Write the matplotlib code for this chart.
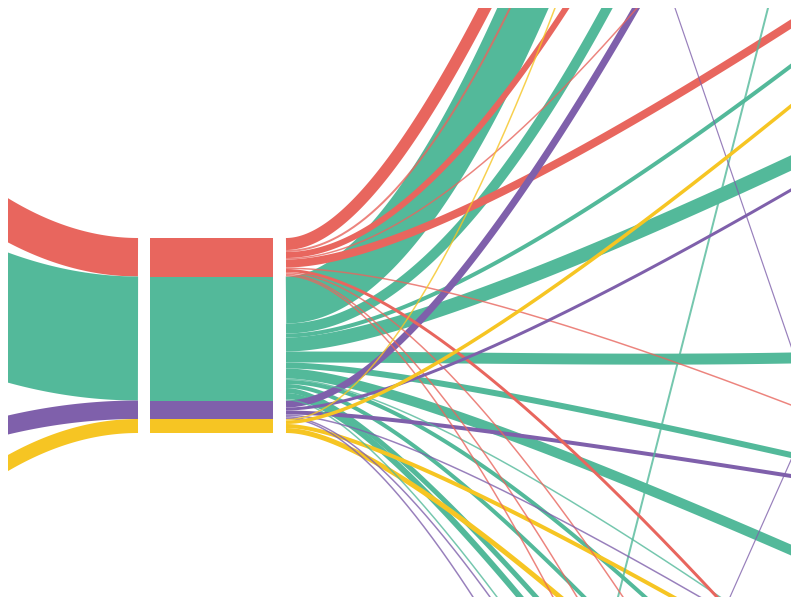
import matplotlib

matplotlib.use("Agg")
import matplotlib.pyplot as plt
import numpy as np

# visible window of the sankey, in pixels of the 791x599 canvas
VIEW_X = (8, 791)
VIEW_Y = (8, 597)
PX = 0.72  # points per pixel at dpi 100

palette = {"red": "#e8665e", "green": "#53b99a", "purple": "#7f60ab", "yellow": "#f6c523"}
groups = ["red", "green", "purple", "yellow"]

# incoming links (left): band centre where each enters the view
left_in_y = [220.5, 318, 425, 463]

# outgoing links, listed in their order on the node
flow_group = (["red"] * 10 + ["green"] * 13 + ["purple"] * 6 + ["yellow"] * 4)
flow_value = [12, 2, 6, 1.5, 8, 1.5, 3, 1.5, 1.5, 1.5,
              47, 10, 4, 14, 11, 6, 10, 1.5, 4, 4, 5, 6, 1.5,
              7, 3, 4, 1.5, 1.5, 1.5,
              1.5, 3.5, 4, 5]
flow_exit_x = [485, 510, 566, 637, 791, 791, 717, 623, 577, 553,
               523, 607, 791, 791, 791, 791, 791, 720, 645, 584, 536, 520, 497,
               636, 791, 791, 700, 490, 473,
               555, 791, 673, 560]
flow_exit_y = [8, 8, 8, 8, 24, 405, 597, 597, 597, 597,
               8, 8, 66, 163, 358, 455, 550, 597, 597, 597, 597, 597, 597,
               8, 190, 476, 597, 597, 597,
               8, 106, 597, 597]
flow_angle = [62.6, 64, 57, 49, 32.6, -21, -47, -56, -59, -62,
              66, 61.5, 37, 25, 1, -12.7, -23.5, -34, -42, -45, -48, -50, -53,
              60, 30, -9, -30, -54, -57,
              69, 39, -29, -40]

# links of other nodes that cross the view
ext_group = ["green", "purple", "purple"]
ext_value = [2, 1.2, 1.2]
ext_x0 = [768, 675, 791]
ext_y0 = [8, 8, 460]
ext_x1 = [618, 791, 730]
ext_y1 = [597, 346, 597]

NODE_TOP = 238
LEFT_END, BAR_X0, BAR_X1, FAN_X = 138, 150, 273, 286


def bezier(p0, p1, p2, p3, n=150):
    t = np.linspace(0, 1, n)[:, None]
    return ((1 - t) ** 3) * p0 + 3 * (1 - t) ** 2 * t * p1 + 3 * (1 - t) * t ** 2 * p2 + t ** 3 * p3


def draw_link(ax, pts, width, color, alpha=1.0):
    # thin links as plain lines, wide ones as filled ribbons (clip cleanly)
    if width <= 3.5:
        ax.plot(pts[:, 0], pts[:, 1], color=color, lw=width * PX, alpha=alpha,
                solid_capstyle="butt", solid_joinstyle="round")
        return
    tang = np.gradient(pts, axis=0)
    tang /= np.hypot(tang[:, 0], tang[:, 1])[:, None]
    norm = np.column_stack([-tang[:, 1], tang[:, 0]]) * width / 2
    poly = np.vstack([pts + norm, (pts - norm)[::-1]])
    ax.fill(poly[:, 0], poly[:, 1], color=color, alpha=alpha, linewidth=0)


fig = plt.figure(figsize=(7.91, 5.99), dpi=100)
fig.patch.set_facecolor("white")
W, H = 791, 599
ax = fig.add_axes([VIEW_X[0] / W, (H - VIEW_Y[1]) / H,
                   (VIEW_X[1] - VIEW_X[0]) / W, (VIEW_Y[1] - VIEW_Y[0]) / H])
ax.set_xlim(*VIEW_X)
ax.set_ylim(VIEW_Y[1], VIEW_Y[0])
ax.axis("off")

# node slot sizes from the outgoing flows
heights = [sum(v for g, v in zip(flow_group, flow_value) if g == grp) for grp in groups]
tops = NODE_TOP + np.concatenate([[0], np.cumsum(heights)[:-1]])

# external links first (underneath)
for g, w, xa, ya, xb, yb in zip(ext_group, ext_value, ext_x0, ext_y0, ext_x1, ext_y1):
    d = np.array([xb - xa, yb - ya], dtype=float)
    d /= np.hypot(*d)
    a = np.array([xa, ya]) - 40 * d
    b = np.array([xb, yb]) + 40 * d
    draw_link(ax, np.array([a, b]), w, palette[g], alpha=0.8)

# incoming links on the left
for grp, h, top, yl in zip(groups, heights, tops, left_in_y):
    yr = top + h / 2
    xs = np.linspace(-60, LEFT_END, 150)
    k = (yr - yl) / (LEFT_END - VIEW_X[0]) ** 2
    ys = yr - k * (LEFT_END - xs) ** 2
    draw_link(ax, np.column_stack([xs, ys]), h, palette[grp])

# node bar
ax.bar((BAR_X0 + BAR_X1) / 2, heights, bottom=tops, width=BAR_X1 - BAR_X0,
       color=[palette[g] for g in groups], linewidth=0)

# outgoing fan: flat at the node, then a parabola that meets the exit direction
cursor = dict(zip(groups, tops))
paths = []
for g, v, ex, ey, ang in zip(flow_group, flow_value, flow_exit_x, flow_exit_y, flow_angle):
    y0 = cursor[g] + v / 2
    cursor[g] += v
    p0 = np.array([FAN_X, y0])
    e = np.array([ex, ey], dtype=float)
    d = np.array([np.cos(np.radians(ang)), -np.sin(np.radians(ang))])
    dist = np.hypot(*(e - p0))
    s = (ey - y0) / d[1] if abs(ang) > 6 else -1
    xc = ex - s * d[0]
    if s > 0 and FAN_X + 10 < xc < ex:
        c = np.array([xc, y0])
        pts = bezier(p0, p0 + 2 / 3 * (c - p0), e + 2 / 3 * (c - e), e)
    else:
        pts = bezier(p0, p0 + [0.35 * dist, 0], e - 0.35 * dist * d, e)
    pts = np.vstack([pts, e + 80 * d])
    paths.append((g, v, pts))

for grp in ["green", "red", "purple", "yellow"]:
    for g, v, pts in paths:
        if g == grp:
            draw_link(ax, pts, v, palette[g], alpha=0.8 if v <= 2 else 1.0)

fig.savefig("out.png", dpi=100, facecolor="white")
